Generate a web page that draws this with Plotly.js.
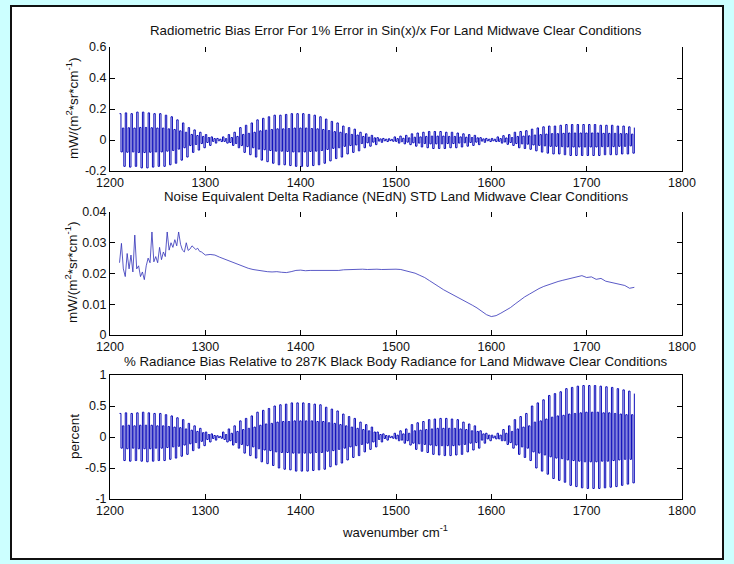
<!DOCTYPE html>
<html><head><meta charset="utf-8">
<script src="https://cdn.plot.ly/plotly-3.0.1.min.js"></script>
<style>
html,body{margin:0;padding:0;background:#ccffff;width:734px;height:564px;overflow:hidden;}
#frame{position:absolute;left:10px;top:5px;width:710px;height:551px;background:#fff;border:2px solid #111;}
#chart{position:absolute;left:0;top:0;width:734px;height:564px;}
</style></head><body>
<div id="frame"></div><div id="chart"></div>
<script>
// ---------- data ----------
const wavenumberStart = 1210;
const wavenumberStep = 1.5;

// Panel 1: radiometric bias error, mW/(m^2 sr cm^-1), sampled every 1.5 cm^-1 from 1210
const biasError = [
 .17,-.077,.077,-.17, .175,-.079,.079,-.175, .17,-.077,.077,-.17,
 .18,-.081,.081,-.18, .18,-.081,.081,-.18, .175,-.079,.079,-.175,
 .17,-.077,.077,-.17, .17,-.077,.077,-.17, .16,-.072,.072,-.16,
 .15,-.068,.068,-.15, .13,-.059,.059,-.13, .11,-.05,.05,-.11,
 .08,-.036,.036,-.08, .065,-.029,.029,-.065, .05,-.023,.023,-.05,
 .035,-.016,.016,-.035, .02,-.009,.009,-.02, .01,-.005,.005,-.01,
 .02,-.009,.009,-.02, .035,-.016,.016,-.035, .05,-.023,.023,-.05,
 .08,-.036,.036,-.08, .095,-.043,.043,-.095, .11,-.05,.05,-.11,
 .13,-.059,.059,-.13, .14,-.063,.063,-.14, .15,-.068,.068,-.15,
 .16,-.072,.072,-.16, .16,-.072,.072,-.16, .165,-.074,.074,-.165,
 .17,-.077,.077,-.17, .17,-.077,.077,-.17, .17,-.077,.077,-.17,
 .165,-.074,.074,-.165, .16,-.072,.072,-.16, .15,-.068,.068,-.15,
 .135,-.061,.061,-.135, .12,-.054,.054,-.12, .11,-.05,.05,-.11,
 .09,-.041,.041,-.09, .08,-.036,.036,-.08, .07,-.032,.032,-.07,
 .05,-.023,.023,-.05, .04,-.018,.018,-.04, .03,-.014,.014,-.03,
 .015,-.007,.007,-.015, .01,-.005,.005,-.01, .008,-.004,.004,-.008,
 .02,-.009,.009,-.02, .025,-.011,.011,-.025, .03,-.014,.014,-.03,
 .04,-.018,.018,-.04, .045,-.02,.02,-.045, .05,-.023,.023,-.05,
 .055,-.025,.025,-.055, .055,-.025,.025,-.055, .055,-.025,.025,-.055,
 .05,-.023,.023,-.05, .05,-.023,.023,-.05, .045,-.02,.02,-.045,
 .04,-.018,.018,-.04, .035,-.016,.016,-.035, .03,-.014,.014,-.03,
 .015,-.007,.007,-.015, .01,-.005,.005,-.01, .01,-.005,.005,-.01,
 .02,-.009,.009,-.02, .028,-.013,.013,-.028, .035,-.016,.016,-.035,
 .05,-.023,.023,-.05, .055,-.025,.025,-.055, .06,-.027,.027,-.06,
 .07,-.032,.032,-.07, .078,-.035,.035,-.078, .085,-.038,.038,-.085,
 .09,-.041,.041,-.09, .09,-.041,.041,-.09, .095,-.043,.043,-.095,
 .1,-.045,.045,-.1, .1,-.045,.045,-.1, .1,-.045,.045,-.1,
 .1,-.045,.045,-.1, .1,-.045,.045,-.1, .1,-.045,.045,-.1,
 .095,-.043,.043,-.095, .095,-.043,.043,-.095, .095,-.043,.043,-.095,
 .09,-.041,.041,-.09, .09,-.041,.041,-.09, .085,-.038,.038,-.085,
 .08
];

// Panel 2: NEdN STD
const nednWavenumber = [
 1210,1212,1214,1216,1218,1220,1222,1224,1226,1228,1230,1232,1234,1236,1238,1240,1242,1244,1246,1248,
 1250,1252,1254,1256,1258,1260,1262,1264,1266,1268,1270,1272,1274,1276,1278,1280,1282,1284,1286,1288,
 1290,1292,1294,1296,1298,1300,1305,1310,1315,1320,1325,1330,1335,1340,1345,1350,1355,1360,1365,1370,
 1375,1380,1385,1390,1395,1400,1405,1410,1415,1420,1425,1430,1435,1440,1445,1450,1455,1460,1465,1470,
 1475,1480,1485,1490,1495,1500,1505,1510,1515,1520,1525,1530,1535,1540,1545,1550,1555,1560,1565,1570,
 1575,1580,1585,1590,1595,1600,1605,1610,1615,1620,1625,1630,1635,1640,1645,1650,1655,1660,1665,1670,
 1675,1680,1685,1690,1695,1700,1705,1710,1715,1720,1725,1730,1735,1740,1745,1750
];
const nednStd = [
 .0235,.0298,.0215,.019,.0265,.0215,.026,.0205,.0325,.0215,.0225,.019,.0205,.018,.0225,.025,.0235,.0335,.0238,.0255,
 .0235,.0285,.0245,.027,.0255,.0335,.0276,.030,.0285,.031,.029,.0335,.0295,.0276,.027,.030,.0275,.028,.029,.0285,
 .0278,.0282,.0272,.027,.0265,.026,.0262,.026,.0253,.0247,.0242,.0235,.0228,.0222,.0217,.0213,.021,.0208,.0206,.0205,
 .0206,.0204,.0203,.0206,.021,.0211,.0209,.021,.021,.0211,.0209,.021,.0211,.021,.0212,.0213,.0212,.0213,.0214,.0213,
 .0214,.0214,.0213,.0214,.0213,.0214,.0213,.0209,.0205,.0201,.0194,.0187,.0177,.0168,.0157,.0147,.0139,.0131,.0123,.0115,
 .0106,.0097,.0088,.0077,.0066,.006,.0063,.0071,.0079,.0089,.0101,.0113,.0124,.0133,.0143,.0151,.0158,.0164,.017,.0174,
 .0178,.0182,.0185,.0188,.0193,.0187,.0189,.0181,.0184,.0175,.0171,.0169,.0163,.0161,.0152,.0155
];

// Panel 3: % radiance bias, sampled every 1.5 cm^-1 from 1210
const percentBias = [
 .38,-.18,.18,-.38, .39,-.19,.19,-.39, .38,-.18,.18,-.38,
 .39,-.19,.19,-.39, .4,-.19,.19,-.4, .39,-.19,.19,-.39,
 .38,-.18,.18,-.38, .38,-.18,.18,-.38, .36,-.17,.17,-.36,
 .34,-.16,.16,-.34, .31,-.15,.15,-.31, .28,-.13,.13,-.28,
 .22,-.11,.11,-.22, .18,-.09,.09,-.18, .14,-.07,.07,-.14,
 .08,-.04,.04,-.08, .05,-.024,.024,-.05, .02,-.01,.01,-.02,
 .08,-.04,.04,-.08, .13,-.06,.06,-.13, .18,-.09,.09,-.18,
 .26,-.12,.12,-.26, .3,-.14,.14,-.3, .34,-.16,.16,-.34,
 .4,-.19,.19,-.4, .43,-.21,.21,-.43, .46,-.22,.22,-.46,
 .5,-.24,.24,-.5, .52,-.25,.25,-.52, .53,-.25,.25,-.53,
 .55,-.26,.26,-.55, .55,-.26,.26,-.55, .55,-.26,.26,-.55,
 .54,-.26,.26,-.54, .53,-.25,.25,-.53, .52,-.25,.25,-.52,
 .48,-.23,.23,-.48, .45,-.22,.22,-.45, .42,-.2,.2,-.42,
 .37,-.18,.18,-.37, .33,-.16,.16,-.33, .3,-.14,.14,-.3,
 .24,-.12,.12,-.24, .2,-.1,.1,-.2, .16,-.08,.08,-.16,
 .08,-.04,.04,-.08, .05,-.024,.024,-.05, .02,-.01,.01,-.02,
 .06,-.03,.03,-.06, .1,-.05,.05,-.1, .13,-.06,.06,-.13,
 .2,-.1,.1,-.2, .23,-.11,.11,-.23, .25,-.12,.12,-.25,
 .28,-.13,.13,-.28, .29,-.14,.14,-.29, .3,-.14,.14,-.3,
 .3,-.14,.14,-.3, .29,-.14,.14,-.29, .28,-.13,.13,-.28,
 .24,-.12,.12,-.24, .21,-.1,.1,-.21, .18,-.09,.09,-.18,
 .1,-.05,.05,-.1, .06,-.03,.03,-.06, .03,-.014,.014,-.03,
 .06,-.03,.03,-.06, .12,-.06,.06,-.12, .18,-.09,.09,-.18,
 .28,-.13,.13,-.28, .33,-.16,.16,-.33, .38,-.18,.18,-.38,
 .5,-.24,.24,-.5, .55,-.26,.26,-.55, .6,-.29,.29,-.6,
 .67,-.32,.32,-.67, .7,-.34,.34,-.7, .73,-.35,.35,-.73,
 .78,-.37,.37,-.78, .8,-.38,.38,-.8, .82,-.39,.39,-.82,
 .83,-.4,.4,-.83, .83,-.4,.4,-.83, .83,-.4,.4,-.83,
 .82,-.39,.39,-.82, .81,-.39,.39,-.81, .8,-.38,.38,-.8,
 .78,-.37,.37,-.78, .76,-.36,.36,-.76, .74,-.36,.36,-.74,
 .7
];

// ticks and labels
const xTickVals = [1200,1300,1400,1500,1600,1700,1800];
const xTickText = ['1200','1300','1400','1500','1600','1700','1800'];
const y1TickVals = [-0.2,0,0.2,0.4,0.6];
const y1TickText = ['-0.2','0','0.2','0.4','0.6'];
const y2TickVals = [0,0.01,0.02,0.03,0.04];
const y2TickText = ['0','0.01','0.02','0.03','0.04'];
const y3TickVals = [-1,-0.5,0,0.5,1];
const y3TickText = ['-1','-0.5','0','0.5','1'];

const title1 = 'Radiometric Bias Error For 1% Error in Sin(x)/x For Land Midwave Clear Conditions';
const title2 = 'Noise Equivalent Delta Radiance (NEdN) STD Land Midwave Clear Conditions';
const title3 = '% Radiance Bias Relative to 287K Black Body Radiance for Land Midwave Clear Conditions';
const yLabel12 = 'mW/(m<sup>2</sup>*sr*cm<sup>-1</sup>)';
const yLabel3 = 'percent';
const xLabel = 'wavenumber cm<sup>-1</sup>';

// ---------- chart ----------
const W = 734, H = 564;
const FAM = '"Liberation Sans", Arial, Helvetica, sans-serif';
const tickFont = {family: FAM, size: 12.5, color: '#111'};
const xDom = [110/W, 682/W];
const yd = (top, bot) => [1 - bot/H, 1 - top/H];

const lineColor = '#0c0cba';
const traces = [
  {x0: wavenumberStart, dx: wavenumberStep, y: biasError, type: 'scatter', mode: 'lines',
   line: {color: lineColor, width: 1, shape: 'hv'}, xaxis: 'x', yaxis: 'y', hoverinfo: 'skip'},
  {x: nednWavenumber, y: nednStd, type: 'scatter', mode: 'lines',
   line: {color: '#3030b8', width: 0.8}, xaxis: 'x2', yaxis: 'y2', hoverinfo: 'skip'},
  {x0: wavenumberStart, dx: wavenumberStep, y: percentBias, type: 'scatter', mode: 'lines',
   line: {color: lineColor, width: 1, shape: 'hv'}, xaxis: 'x3', yaxis: 'y3', hoverinfo: 'skip'},
  {x: [], y: [], xaxis: 'x4', yaxis: 'y'},
  {x: [], y: [], xaxis: 'x5', yaxis: 'y2'}
];

const baseAx = {
  showgrid: false, zeroline: false, showline: true, linecolor: '#000', linewidth: 1,
  ticks: 'inside', ticklen: 5, tickcolor: '#000', tickwidth: 1, tickfont: tickFont,
  fixedrange: true
};
const xAx = (anchor, mirror) => Object.assign({}, baseAx, {
  domain: xDom, range: [1200, 1800], autorange: false, anchor: anchor,
  tickmode: 'array', tickvals: xTickVals, ticktext: xTickText, mirror: mirror
});
const topAx = (ov, anchor) => Object.assign({}, baseAx, {
  overlaying: ov, side: 'top', anchor: anchor, range: [1200, 1800], autorange: false,
  showline: false, showticklabels: false, tickmode: 'array', tickvals: xTickVals
});
const yAx = (dom, range, vals, text, anchor) => Object.assign({}, baseAx, {
  domain: dom, range: range, autorange: false, anchor: anchor, mirror: 'ticks',
  tickmode: 'array', tickvals: vals, ticktext: text
});

const ann = (text, x, y, size, angle) => ({
  text: text, x: x, y: y, xref: 'paper', yref: 'paper', showarrow: false,
  xanchor: 'center', yanchor: 'middle', textangle: angle || 0,
  font: {family: FAM, size: size, color: '#111'}
});

const layout = {
  width: W, height: H, margin: {l: 0, r: 0, t: 0, b: 0},
  paper_bgcolor: 'rgba(0,0,0,0)', plot_bgcolor: '#fff', showlegend: false,
  font: {family: FAM, color: '#111'},
  xaxis: xAx('y', false),
  xaxis2: xAx('y2', false),
  xaxis3: xAx('y3', 'ticks'),
  xaxis4: topAx('x', 'y'),
  xaxis5: topAx('x2', 'y2'),
  yaxis: yAx(yd(47, 171), [-0.2, 0.6], y1TickVals, y1TickText, 'x'),
  yaxis2: yAx(yd(212, 335), [0, 0.04], y2TickVals, y2TickText, 'x2'),
  yaxis3: yAx(yd(375, 499), [-1, 1], y3TickVals, y3TickText, 'x3'),
  annotations: [
    ann(title1, 396/W, 1 - 31/H, 13.3),
    ann(title2, 396/W, 1 - 197/H, 13.3),
    ann(title3, 396/W, 1 - 361/H, 13.3),
    ann(yLabel12, 72/W, 1 - 109/H, 13.5, -90),
    ann(yLabel12, 71/W, 1 - 273/H, 13.5, -90),
    ann(yLabel3, 74/W, 1 - 437/H, 13.5, -90),
    ann(xLabel, 395/W, 1 - 531/H, 13.2)
  ]
};

Plotly.newPlot('chart', traces, layout, {staticPlot: true, displayModeBar: false});
</script></body></html>
